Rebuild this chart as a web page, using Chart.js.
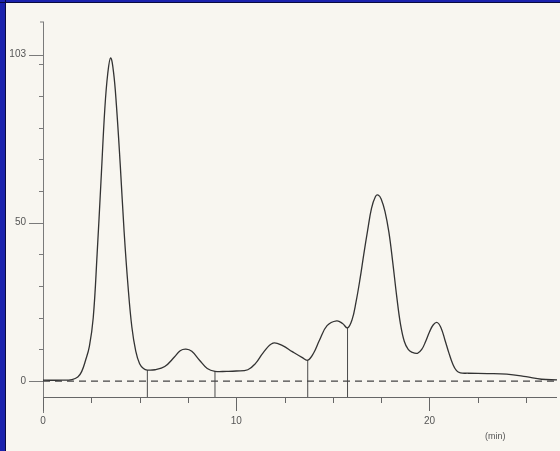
<!DOCTYPE html>
<html>
<head>
<meta charset="utf-8">
<script src="https://cdn.jsdelivr.net/npm/chart.js@4"></script>
<style>
  html, body { margin: 0; padding: 0; background: #f8f6f0; }
  canvas { display: block; }
</style>
</head>
<body>
<canvas id="c" width="560" height="451"></canvas>
<script>
// ---- data ----
const times  = [0, 1.0, 1.5, 1.8, 2.0, 2.2, 2.4, 2.6, 2.8, 3.0, 3.2, 3.35, 3.5, 3.65, 3.8, 4.0, 4.2, 4.4, 4.6, 4.8,
                5.0, 5.2, 5.4, 5.8, 6.3, 6.8, 7.1, 7.4, 7.7, 8.1, 8.5, 8.9, 9.5, 10.0, 10.6, 11.0, 11.4, 11.9, 12.4,
                12.9, 13.4, 13.7, 14.0, 14.3, 14.7, 15.2, 15.5, 15.76, 16.0, 16.2, 16.4, 16.6, 16.8, 17.0, 17.2,
                17.35, 17.5, 17.7, 17.9, 18.1, 18.3, 18.5, 18.7, 18.9, 19.1, 19.38, 19.6, 19.8, 20.0, 20.2, 20.4,
                20.6, 20.8, 21.0, 21.2, 21.4, 21.6, 22, 23, 24, 25, 25.8, 26.6];
const signal = [0.3, 0.3, 0.5, 1.3, 3, 6.5, 11, 20, 40, 63, 86, 97, 102, 97.5, 87, 68, 47, 30, 17, 9.5,
                5.5, 4.0, 3.5, 3.6, 4.6, 7.6, 9.6, 10.1, 9.4, 6.6, 4.0, 3.1, 3.1, 3.2, 3.6, 5.6, 9.0, 12, 11.2,
                9.3, 7.5, 6.6, 8.8, 12.8, 17.5, 19, 18.2, 16.8, 19.5, 25, 32, 40, 47.6, 54.5, 58.2,
                58.7, 57.5, 53.5, 47, 37.5, 27, 18, 12.5, 10, 9.1, 8.8, 10, 12.5, 15.5, 17.8, 18.5,
                16.8, 13, 9, 5.5, 3.3, 2.6, 2.5, 2.4, 2.2, 1.4, 0.6, 0.4];
const dropTimes   = [5.4, 8.9, 13.7, 15.76];
const dropHeights = [3.5, 3.1, 6.6, 16.8];
const baselineLevel = 0;
const axisLevel = -5;
const xRange = [0, 26.6];
const yRange = [-5, 113];
const xMinorTicks = [2.5, 5, 7.5, 12.5, 15, 17.5, 22.5, 25];
const xLabelTicks = [0, 10, 20];
const xLabels = ['0', '10', '20'];
const xUnit = '(min)';
const yMinorTicks = [10, 20, 30, 40, 60, 70, 80, 90, 100];
const yLabelTicks = [0, 50, 103];
const yLabels = ['0', '50', '103'];

const curve = times.map((t, i) => ({ x: t, y: signal[i] }));
const dropSets = dropTimes.map((t, i) => ({
  data: [{ x: t, y: axisLevel }, { x: t, y: dropHeights[i] }],
  borderColor: '#4a4a4a', borderWidth: 1, pointRadius: 0, tension: 0
}));

const decor = {
  id: 'decor',
  beforeDraw(chart) {
    const ctx = chart.ctx;
    ctx.save();
    ctx.fillStyle = '#f8f6f0';
    ctx.fillRect(0, 0, chart.width, chart.height);
    ctx.fillStyle = '#1b22ad';
    ctx.fillRect(0, 0, chart.width, 3);
    ctx.fillRect(0, 0, 5, chart.height);
    ctx.fillStyle = '#0a0a40';
    ctx.fillRect(0, 2, chart.width, 1);
    ctx.fillRect(5, 0, 1, chart.height);
    ctx.restore();
  },
  beforeDatasetsDraw(chart) {
    const ctx = chart.ctx, xs = chart.scales.x, ys = chart.scales.y;
    const x0 = xs.getPixelForValue(0);
    const yAxisPix = ys.getPixelForValue(axisLevel);
    ctx.save();
    ctx.strokeStyle = '#7a7a7a';
    ctx.lineWidth = 1;
    // y axis line (extends a little below the x axis)
    ctx.beginPath();
    ctx.moveTo(x0 + 0.5, ys.getPixelForValue(yRange[1]) - 1);
    ctx.lineTo(x0 + 0.5, yAxisPix + 16);
    ctx.moveTo(x0 - 3, ys.getPixelForValue(yRange[1]) - 1);
    ctx.lineTo(x0 + 1, ys.getPixelForValue(yRange[1]) - 1);
    ctx.stroke();
    // x axis line
    ctx.strokeStyle = '#666';
    ctx.beginPath();
    ctx.moveTo(x0, Math.round(yAxisPix) + 0.5);
    ctx.lineTo(xs.getPixelForValue(xRange[1]), Math.round(yAxisPix) + 0.5);
    ctx.stroke();
    // x ticks
    ctx.beginPath();
    xMinorTicks.forEach(v => {
      const p = Math.round(xs.getPixelForValue(v)) + 0.5;
      ctx.moveTo(p, yAxisPix); ctx.lineTo(p, yAxisPix + 6);
    });
    xLabelTicks.forEach(v => {
      const p = Math.round(xs.getPixelForValue(v)) + 0.5;
      ctx.moveTo(p, yAxisPix); ctx.lineTo(p, yAxisPix + 14);
    });
    ctx.stroke();
    // y ticks
    ctx.strokeStyle = '#7a7a7a';
    ctx.beginPath();
    yMinorTicks.forEach(v => {
      const p = Math.round(ys.getPixelForValue(v)) + 0.5;
      ctx.moveTo(x0 - 4, p); ctx.lineTo(x0, p);
    });
    yLabelTicks.forEach(v => {
      const p = Math.round(ys.getPixelForValue(v)) + 0.5;
      ctx.moveTo(x0 - 14, p); ctx.lineTo(x0, p);
    });
    ctx.stroke();
    // labels
    ctx.fillStyle = '#555';
    ctx.font = '10px "Liberation Sans", Arial, sans-serif';
    ctx.textBaseline = 'middle';
    ctx.textAlign = 'right';
    yLabelTicks.forEach((v, i) => {
      ctx.fillText(yLabels[i], x0 - 17, ys.getPixelForValue(v));
    });
    ctx.textAlign = 'center';
    xLabelTicks.forEach((v, i) => {
      ctx.fillText(xLabels[i], xs.getPixelForValue(v), yAxisPix + 24);
    });
    ctx.font = '9px "Liberation Sans", Arial, sans-serif';
    ctx.fillText(xUnit, xs.getPixelForValue(23.4), yAxisPix + 40);
    ctx.restore();
  }
};

new Chart(document.getElementById('c'), {
  type: 'line',
  data: {
    datasets: [
      {
        data: curve,
        borderColor: '#333',
        borderWidth: 1.3,
        pointRadius: 0,
        tension: 0.4,
        fill: false
      },
      {
        data: [{ x: xRange[0], y: baselineLevel }, { x: xRange[1], y: baselineLevel }],
        borderColor: '#444',
        borderWidth: 1.2,
        borderDash: [7, 5],
        pointRadius: 0
      },
      ...dropSets
    ]
  },
  options: {
    responsive: false,
    animation: false,
    layout: { padding: { left: 43, right: 3, top: 23, bottom: 54 } },
    plugins: { legend: { display: false }, tooltip: { enabled: false } },
    scales: {
      x: { type: 'linear', display: false, min: xRange[0], max: xRange[1] },
      y: { type: 'linear', display: false, min: yRange[0], max: yRange[1] }
    }
  },
  plugins: [decor]
});
</script>
</body>
</html>
